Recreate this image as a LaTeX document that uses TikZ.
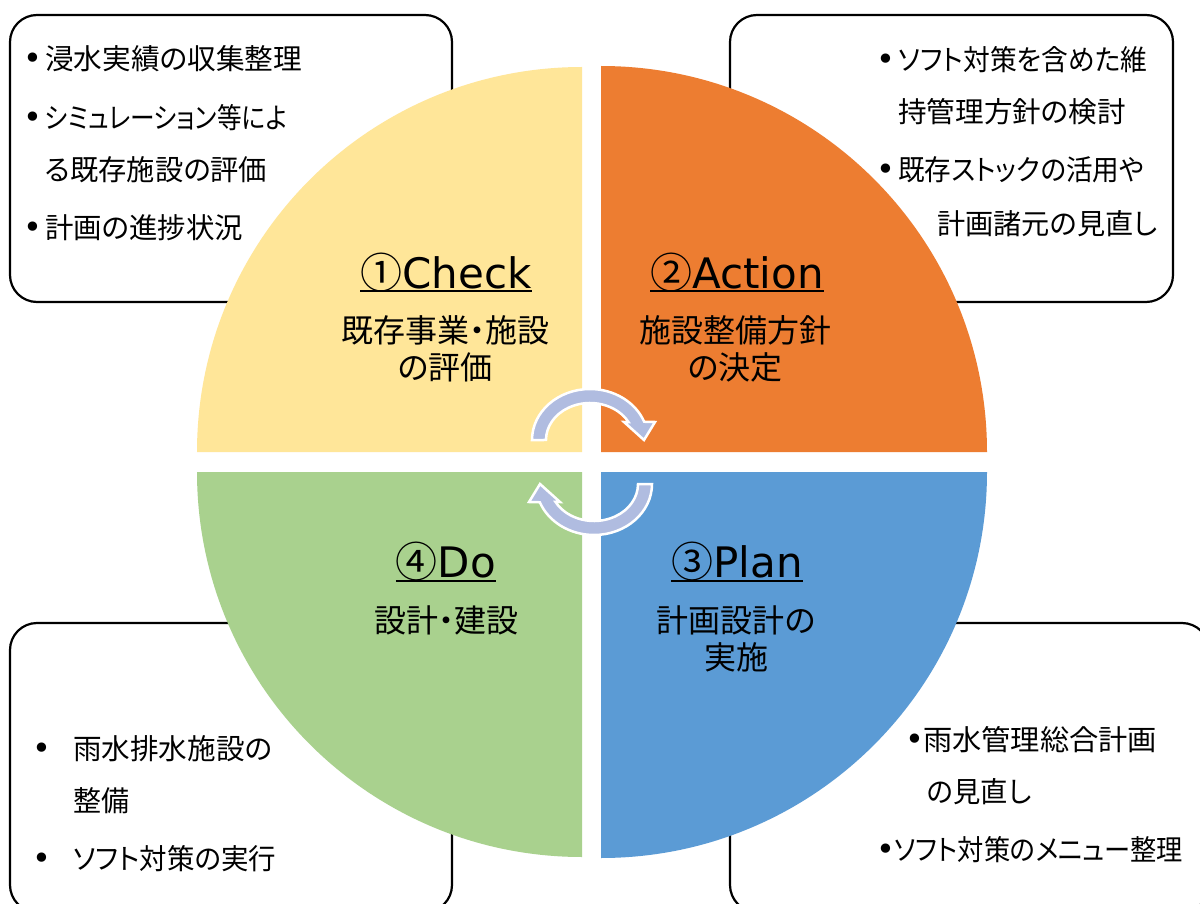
\documentclass[tikz,border=0pt]{standalone}
\usepackage{graphicx}
\usepackage{fontspec}
\setmainfont{Noto Sans CJK JP}[RawFeature=+palt]
\newfontfamily\lat{DejaVu Sans}
\newcommand{\fitw}[2]{\resizebox{#1pt}{\height}{#2}}
\definecolor{qy}{HTML}{FFE699}
\definecolor{qo}{HTML}{ED7D31}
\definecolor{qg}{HTML}{A9D18E}
\definecolor{qb}{HTML}{5B9BD5}
\definecolor{arrowc}{RGB}{176,188,224}
\begin{document}
\begin{tikzpicture}[x=1pt,y=1pt,
  box/.style={draw=black,line width=2.2pt,rounded corners=27pt,fill=white,inner sep=0pt},
  ttl/.style={anchor=base,inner sep=0pt,font=\fontsize{42}{50}\selectfont},
  sub/.style={anchor=base,inner sep=0pt,font=\fontsize{32}{38}\selectfont},
  itm/.style={anchor=base west,inner sep=0pt,font=\fontsize{28.5}{34}\selectfont},
  bul/.style={anchor=base,inner sep=0pt,font=\lat\fontsize{32}{36}\selectfont},
  uline/.style={line width=2pt},
  cyc/.pic={\filldraw[fill=arrowc,draw=white,line width=2.5pt,line join=miter]
     (-58,0) arc[start angle=180,end angle=21,x radius=58,y radius=51]
     -- (65,18) -- (54,0) -- (34,18) -- (38.48,17.94)
     arc[start angle=29,end angle=180,x radius=44,y radius=37] -- cycle;}
]
\useasboundingbox (0,0) rectangle (1200,-904);
\clip (0,0) rectangle (1200,-904);
\fill[white] (0,0) rectangle (1200,-904);

% boxes
\node[box,minimum width=442,minimum height=287] (b1) at (231,-158.5) {};
\node[box,minimum width=443,minimum height=287] (b2) at (951.5,-158.5) {};
\node[box,minimum width=442,minimum height=289] (b3) at (231,-767.5) {};
\node[box,minimum width=479,minimum height=289] (b4) at (969.5,-767.5) {};

% quadrants
\fill[qy] (582,-452) -- (197,-452) arc[start angle=180,end angle=90,radius=385] -- cycle;
\fill[qo] (601,-452) -- (601,-66) arc[start angle=90,end angle=0,radius=386] -- cycle;
\fill[qg] (582,-472) -- (197,-472) arc[start angle=180,end angle=270,radius=385] -- cycle;
\fill[qb] (601,-472) -- (987,-472) arc[start angle=0,end angle=-90,radius=386] -- cycle;

% cycle arrows
\pic at (590,-440) {cyc};
\pic[rotate=180] at (594,-484) {cyc};

% titles
\node[ttl] (chk) at (446,-288) {①\lat Check};
\draw[uline] ([yshift=-3.5]chk.base west) -- ([yshift=-3.5]chk.base east);
\node[ttl] (act) at (737,-288) {②\lat Action};
\draw[uline] ([yshift=-3.5]act.base west) -- ([yshift=-3.5]act.base east);
\node[ttl] (do) at (446,-577) {④\lat Do};
\draw[uline] ([yshift=-4]do.base west) -- ([yshift=-4]do.base east);
\node[ttl] (pln) at (737,-577) {③\lat Plan};
\draw[uline] ([yshift=-4]pln.base west) -- ([yshift=-4]pln.base east);

% sub labels
\node[sub] (s1a) at (445,-342) {既存事業・施設};
\node[sub] (s1b) at (445,-379) {の評価};
\node[sub] (s2a) at (735,-342) {施設整備方針};
\node[sub] (s2b) at (735,-379) {の決定};
\node[sub] (s4a) at (446,-632) {設計・建設};
\node[sub] (s3a) at (736,-632) {計画設計の};
\node[sub] (s3b) at (736,-669) {実施};

% top-left box
\node[bul] (p1) at (33,-70) {•};
\node[itm] (t1) at (45,-70) {\fitw{257}{浸水実績の収集整理}};
\node[bul] (p2) at (33,-129) {•};
\node[itm] (t2) at (45,-129) {\fitw{242}{シミュレーション等によ}};
\node[itm] (t3) at (45,-181) {\fitw{222}{る既存施設の評価}};
\node[bul] (p4) at (33,-239) {•};
\node[itm] (t4) at (45,-239) {\fitw{198}{計画の進捗状況}};

% top-right box
\node[bul] (q1) at (886,-71) {•};
\node[itm] (u1) at (898,-71) {\fitw{249}{ソフト対策を含めた維}};
\node[itm] (u2) at (898,-123) {\fitw{228}{持管理方針の検討}};
\node[bul] (q3) at (886,-181) {•};
\node[itm] (u3) at (898,-181) {\fitw{246}{既存ストックの活用や}};
\node[itm] (u4) at (937,-235) {\fitw{220}{計画諸元の見直し}};

% bottom-left box
\node[bul] (r1) at (42,-759) {•};
\node[itm] (v1) at (73,-759) {\fitw{199}{雨水排水施設の}};
\node[itm] (v2) at (73,-811) {\fitw{56}{整備}};
\node[bul] (r3) at (42,-869) {•};
\node[itm] (v3) at (73,-869) {\fitw{203}{ソフト対策の実行}};

% bottom-right box
\node[bul] (w1) at (915,-750) {•};
\node[itm] (x1) at (923,-750) {\fitw{234}{雨水管理総合計画}};
\node[itm] (x2) at (927,-802) {\fitw{104}{の見直し}};
\node[bul] (w3) at (886,-860) {•};
\node[itm] (x3) at (894,-860) {\fitw{289}{ソフト対策のメニュー整理}};
\end{tikzpicture}
\end{document}
